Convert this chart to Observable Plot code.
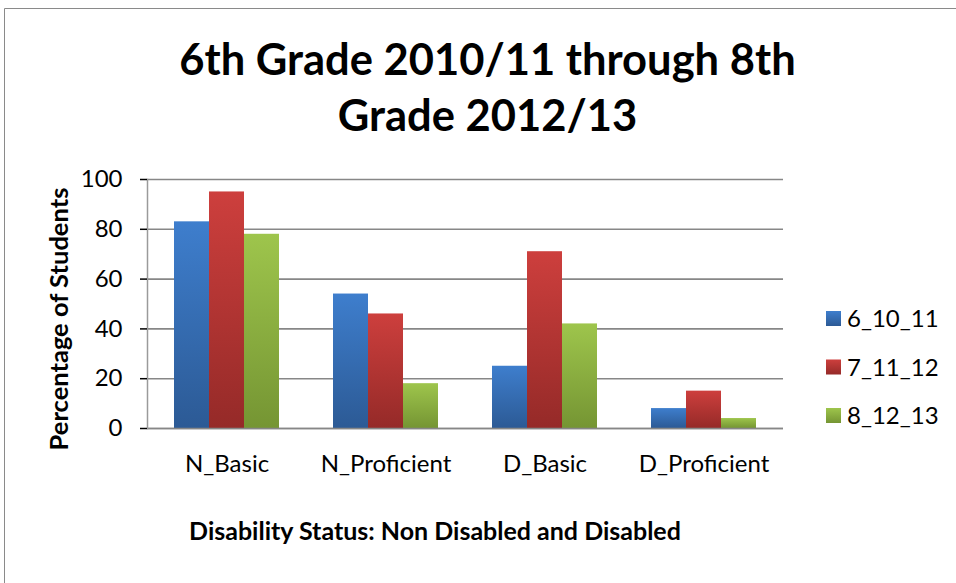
<!DOCTYPE html>
<html><head><meta charset="utf-8">
<script src="https://cdn.jsdelivr.net/npm/d3@7"></script>
<script src="https://cdn.jsdelivr.net/npm/@observablehq/plot@0.6"></script>
<style>
html,body{margin:0;padding:0;background:#fff;width:956px;height:583px;overflow:hidden}
#overlay{position:absolute;left:0;top:0}
#chart{position:absolute;left:0;top:160px}
#chart g[aria-label="y-axis tick"]{stroke:#8c8c8c;stroke-width:1.5px}
</style></head><body>
<svg id="overlay" width="956" height="583" xmlns="http://www.w3.org/2000/svg"></svg>
<div id="chart"></div>
<script>
// ---- data ----
const categories = ["N_Basic", "N_Proficient", "D_Basic", "D_Proficient"];
const seriesNames = ["6_10_11", "7_11_12", "8_12_13"];
const values_6_10_11 = [83, 54, 25, 8];
const values_7_11_12 = [95, 46, 71, 15];
const values_8_12_13 = [78, 18, 42, 4];
const yTicks = [0, 20, 40, 60, 80, 100];
const titleLines = ["6th Grade 2010/11 through 8th", "Grade 2012/13"];
const yLabel = "Percentage of Students";
const xLabel = "Disability Status: Non Disabled and Disabled";

// ---- styles ----
const gradientStops = [["#3e7ecd", "#2c5a95"], ["#cd3f3d", "#952a28"], ["#9ec54c", "#759533"]];
const gridColor = "#878787";
const font = "Lato, 'Open Sans', sans-serif";

const seriesValues = [values_6_10_11, values_7_11_12, values_8_12_13];
const rows = seriesNames.flatMap((s, i) => categories.map((c, j) => ({category: c, series: s, value: seriesValues[i][j]})));
const gradIds = seriesNames.map((s, i) => "grad" + i);

// ---- overlay: gradients, frame, titles, legend ----
const ov = d3.select("#overlay");
const defs = ov.append("defs");
gradIds.forEach((id, i) => {
  const g = defs.append("linearGradient").attr("id", id).attr("x1", 0).attr("y1", 0).attr("x2", 0).attr("y2", 1);
  g.append("stop").attr("offset", "0%").attr("stop-color", gradientStops[i][0]);
  g.append("stop").attr("offset", "100%").attr("stop-color", gradientStops[i][1]);
});
ov.append("path").attr("d", "M4.5,583V8.5H956").attr("fill", "none").attr("stroke", "#8a8a8a").attr("stroke-width", 1);
ov.selectAll("text.title").data(titleLines).join("text")
  .attr("x", 487.5).attr("y", (d, i) => 75 + i * 56)
  .attr("text-anchor", "middle").attr("font-family", font).attr("font-weight", "bold").attr("font-size", 43.5)
  .text(d => d);
ov.append("text").attr("transform", "translate(68,319) rotate(-90)")
  .attr("text-anchor", "middle").attr("font-family", font).attr("font-weight", "bold").attr("font-size", 25.5)
  .text(yLabel);
ov.append("text").attr("x", 435).attr("y", 540)
  .attr("text-anchor", "middle").attr("font-family", font).attr("font-weight", "bold").attr("font-size", 25)
  .text(xLabel);
const lg = ov.append("g");
seriesNames.forEach((s, i) => {
  lg.append("rect").attr("x", 826).attr("y", 311 + i * 48.5).attr("width", 15).attr("height", 15).attr("fill", `url(#${gradIds[i]})`);
  lg.append("text").attr("x", 847).attr("y", 327 + i * 48.5).attr("font-family", font).attr("font-size", 24).text(s);
});

// ---- chart ----
const chart = Plot.plot({
  width: 800,
  height: 318,
  marginLeft: 147,
  marginRight: 17,
  marginTop: 19,
  marginBottom: 50,
  style: {fontFamily: font, fontSize: "24px", color: "black", background: "transparent", overflow: "visible"},
  fx: {domain: categories, padding: 0, axis: null, label: null},
  x: {domain: seriesNames, paddingInner: 0, paddingOuter: 0.75, axis: null},
  y: {domain: [0, 100], axis: null},
  color: {domain: seriesNames, range: gradIds.map(id => `url(#${id})`)},
  marks: [
    Plot.gridY(yTicks, {stroke: gridColor, strokeOpacity: 1, strokeWidth: 1.6}),
    Plot.barY(rows, {fx: "category", x: "series", y: "value", fill: "series"}),
    Plot.ruleY([0], {stroke: gridColor, strokeWidth: 1.6}),
    Plot.frame({anchor: "left", facetAnchor: "left", stroke: "#9a9a9a", strokeWidth: 1.5}),
    Plot.axisY(yTicks, {anchor: "left", tickSize: 7, tickPadding: 18, tickFormat: d => String(d), label: null, fontSize: 24}),
    Plot.axisFx({anchor: "bottom", tickSize: 0, tickPadding: 26, label: null, fontSize: 24})
  ]
});
document.getElementById("chart").appendChild(chart);
</script>
</body></html>
